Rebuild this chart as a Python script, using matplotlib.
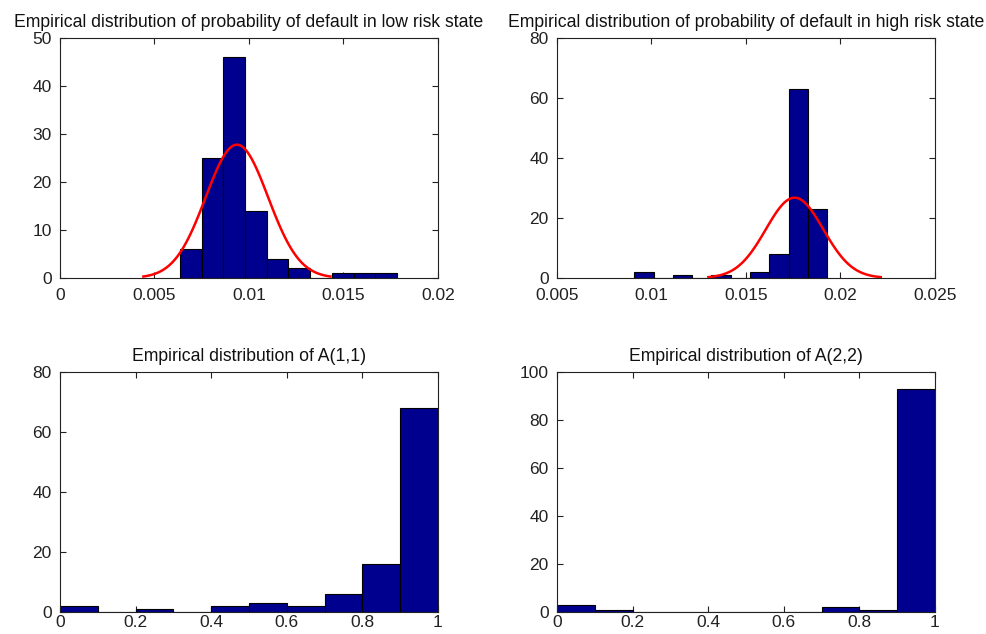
import numpy as np
import matplotlib
matplotlib.use("Agg")
import matplotlib.pyplot as plt

plt.rcParams["font.family"] = ["Liberation Sans", "DejaVu Sans"]

# Low risk state: probability of default histogram (10 bins)
pd_low_edges_lo = 0.00634
pd_low_edges_hi = 0.01783
pd_low_counts = [6, 25, 46, 14, 4, 2, 0, 1, 1, 1]
pd_low_mu = 0.00936
pd_low_sigma = 0.00165

# High risk state: probability of default histogram (10 bins)
pd_high_edges_lo = 0.00909
pd_high_edges_hi = 0.01929
pd_high_counts = [2, 0, 1, 0, 1, 0, 2, 8, 63, 23]
pd_high_mu = 0.01757
pd_high_sigma = 0.00152

# Transition probabilities A(1,1) and A(2,2), bins of width 0.1 on [0, 1]
a_edges_lo = 0.0
a_edges_hi = 1.0
a11_counts = [2, 0, 1, 0, 2, 3, 2, 6, 16, 68]
a22_counts = [3, 1, 0, 0, 0, 0, 0, 2, 1, 93]

titles = [
    "Empirical distribution of probability of default in low risk state",
    "Empirical distribution of probability of default in high risk state",
    "Empirical distribution of A(1,1)",
    "Empirical distribution of A(2,2)",
]
xticks = [
    [0, 0.005, 0.01, 0.015, 0.02],
    [0.005, 0.01, 0.015, 0.02, 0.025],
    [0, 0.2, 0.4, 0.6, 0.8, 1],
    [0, 0.2, 0.4, 0.6, 0.8, 1],
]
xticklabels = [
    ["0", "0.005", "0.01", "0.015", "0.02"],
    ["0.005", "0.01", "0.015", "0.02", "0.025"],
    ["0", "0.2", "0.4", "0.6", "0.8", "1"],
    ["0", "0.2", "0.4", "0.6", "0.8", "1"],
]
yticks = [
    [0, 10, 20, 30, 40, 50],
    [0, 20, 40, 60, 80],
    [0, 20, 40, 60, 80],
    [0, 20, 40, 60, 80, 100],
]

BAR = "#00008F"
TICK_FS = 12.5
TITLE_FS = 12.7

fig = plt.figure(figsize=(9.87, 6.34), dpi=100)
W, H = 987, 634
boxes = [(60, 38, 438, 278), (557, 38, 935, 278),
         (60, 372, 438, 612), (557, 372, 935, 612)]
xpads = [7, 7, 2, 2]
axes = []
for (l, t, r, b) in boxes:
    axes.append(fig.add_axes([l / W, 1 - b / H, (r - l) / W, (b - t) / H]))


def draw_hist(ax, lo, hi, counts):
    edges = np.linspace(lo, hi, len(counts) + 1)
    ax.bar(edges[:-1], counts, width=np.diff(edges), align="edge",
           color=BAR, edgecolor="black", linewidth=0.8, zorder=2)
    return edges


def draw_fit(ax, counts, edges, mu, sigma):
    n = sum(counts)
    bw = edges[1] - edges[0]
    x = np.linspace(mu - 3 * sigma, mu + 3 * sigma, 100)
    y = n * bw * np.exp(-0.5 * ((x - mu) / sigma) ** 2) / (sigma * np.sqrt(2 * np.pi))
    ax.plot(x, y, color="red", linewidth=1.8, zorder=3)


e = draw_hist(axes[0], pd_low_edges_lo, pd_low_edges_hi, pd_low_counts)
draw_fit(axes[0], pd_low_counts, e, pd_low_mu, pd_low_sigma)
e = draw_hist(axes[1], pd_high_edges_lo, pd_high_edges_hi, pd_high_counts)
draw_fit(axes[1], pd_high_counts, e, pd_high_mu, pd_high_sigma)
draw_hist(axes[2], a_edges_lo, a_edges_hi, a11_counts)
draw_hist(axes[3], a_edges_lo, a_edges_hi, a22_counts)

for i, ax in enumerate(axes):
    ax.set_xlim(xticks[i][0], xticks[i][-1])
    ax.set_ylim(yticks[i][0], yticks[i][-1])
    ax.set_xticks(xticks[i])
    ax.set_xticklabels(xticklabels[i])
    ax.set_yticks(yticks[i])
    ax.set_yticklabels([str(v) for v in yticks[i]])
    ax.tick_params(direction="in", top=True, right=True, length=4,
                   width=0.8, color="#222222", labelsize=TICK_FS,
                   labelcolor="#222222")
    ax.tick_params(axis="x", pad=xpads[i])
    ax.tick_params(axis="y", pad=6)
    for s in ax.spines.values():
        s.set_color("#222222")
        s.set_linewidth(0.8)
    ax.set_title(titles[i], fontsize=TITLE_FS, color="#111111", pad=8)

fig.savefig("out.png", dpi=100, facecolor="white")
